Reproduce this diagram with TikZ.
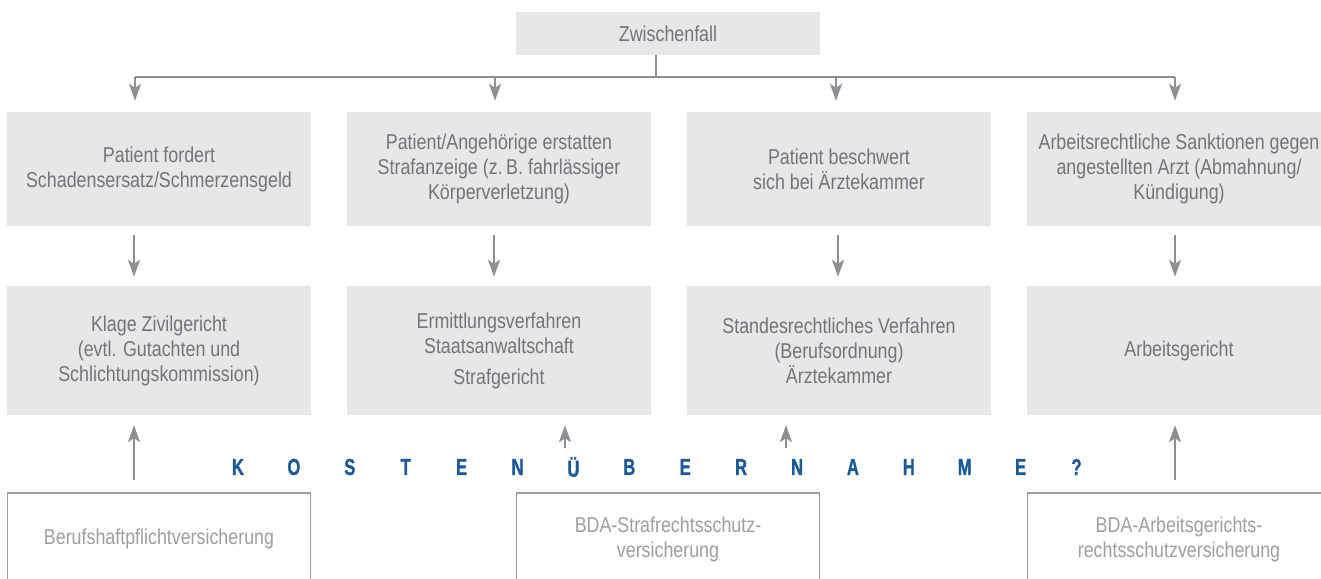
\documentclass[tikz,border=0pt]{standalone}
\usepackage{fontspec}
\setmainfont{Liberation Sans}[FakeStretch=0.83]
\newfontfamily\kfont{Liberation Sans}[FakeStretch=0.72, FakeBold=1.2]
\usetikzlibrary{arrows.meta}
\definecolor{boxfill}{HTML}{E6E7E8}
\definecolor{txt}{HTML}{737477}
\definecolor{lite}{HTML}{9C9EA1}
\definecolor{ln}{HTML}{8E8F92}
\definecolor{frame}{HTML}{9C9DA0}
\definecolor{blu}{HTML}{1A5A9A}
\begin{document}
\begin{tikzpicture}[x=1pt,y=-1pt,
  gbox/.style={fill=boxfill, text=txt, minimum width=304pt, align=center,
    inner sep=0pt, font=\fontsize{21.5}{25}\selectfont},
  rowone/.style={gbox, minimum height=114pt},
  rowtwo/.style={gbox, minimum height=129pt},
  insbox/.style={draw=frame, line width=1.5pt, text=lite, minimum width=303pt,
    minimum height=92pt, align=center, inner sep=0pt, font=\fontsize{21.5}{25}\selectfont},
  arr/.style={draw=ln, line width=2pt, -{Stealth[length=17pt,width=12pt,inset=4pt]}},
  ln/.style={draw=ln, line width=2pt},
  kletter/.style={text=blu, font=\kfont\bfseries\fontsize{23}{24}\selectfont, inner sep=0pt}]
\useasboundingbox (0,0) rectangle (1321,578);
\clip (0,0) rectangle (1321,578);

% top node
\node[gbox, minimum height=43pt] (zw) at (668,33.5) {Zwischenfall};

% row 1
\node[rowone] (r1a) at (159,169) {Patient fordert\\Schadensersatz/Schmerzensgeld};
\node[rowone] (r1b) at (499,169) {Patient/Angehörige erstatten\\Strafanzeige (z.\,B. fahrlässiger\\Körperverletzung)};
\node[rowone] (r1c) at (839,169) {Patient beschwert\\sich bei Ärztekammer};
\node[rowone] (r1d) at (1179,169) {Arbeitsrechtliche Sanktionen gegen\\angestellten Arzt (Abmahnung/\\Kündigung)};

% row 2
\node[rowtwo] (r2a) at (159,350.5) {Klage Zivilgericht\\(evtl. Gutachten und\\Schlichtungskommission)};
\node[rowtwo] (r2b) at (499,350.5) {Ermittlungsverfahren\\Staatsanwaltschaft\\[6pt]Strafgericht};
\node[rowtwo] (r2c) at (839,350.5) {Standesrechtliches Verfahren\\(Berufsordnung)\\Ärztekammer};
\node[rowtwo] (r2d) at (1179,350.5) {Arbeitsgericht};

% insurance boxes
\node[insbox] (v1) at (159,539) {Berufshaftpflichtversicherung};
\node[insbox] (v2) at (668,539) {BDA-Strafrechtsschutz-\\versicherung};
\node[insbox] (v3) at (1179,539) {BDA-Arbeitsgerichts-\\rechtsschutzversicherung};

% distribution
\coordinate (stem) at (656,77);
\coordinate (h1) at (135,77);
\coordinate (h2) at (495,77);
\coordinate (h3) at (836,77);
\coordinate (h4) at (1175,77);
\draw[ln] (zw.south -| stem) -- (stem);
\draw[ln] (h1) -- (h4);
\foreach \i/\b in {1/r1a,2/r1b,3/r1c,4/r1d}
  \draw[arr, shorten >=11pt] (h\i) -- (h\i |- \b.north);

% row 1 -> row 2
\foreach \x/\a/\b in {134/r1a/r2a,494/r1b/r2b,838/r1c/r2c,1175/r1d/r2d}
  \draw[arr, shorten <=9pt, shorten >=9pt] (\a.south -| \x,0) -- (\b.north -| \x,0);

% upward arrows
\draw[arr, shorten <=12pt, shorten >=10pt] (v1.north -| 134,0) -- (r2a.south -| 134,0);
\draw[arr, shorten <=12pt, shorten >=10pt] (v3.north -| 1175,0) -- (r2d.south -| 1175,0);
\coordinate (s2) at (565,448);
\coordinate (s3) at (786,448);
\draw[arr, shorten >=10pt] (s2) -- (r2b.south -| s2);
\draw[arr, shorten >=10pt] (s3) -- (r2c.south -| s3);

% Kostenuebernahme
\foreach \c [count=\i from 0] in {K,O,S,T,E,N,Ü,B,E,R,N,A,H,M,E,?}
  \node[kletter] (k\i) at (238+55.9*\i,467) {\c};
\end{tikzpicture}
\end{document}
